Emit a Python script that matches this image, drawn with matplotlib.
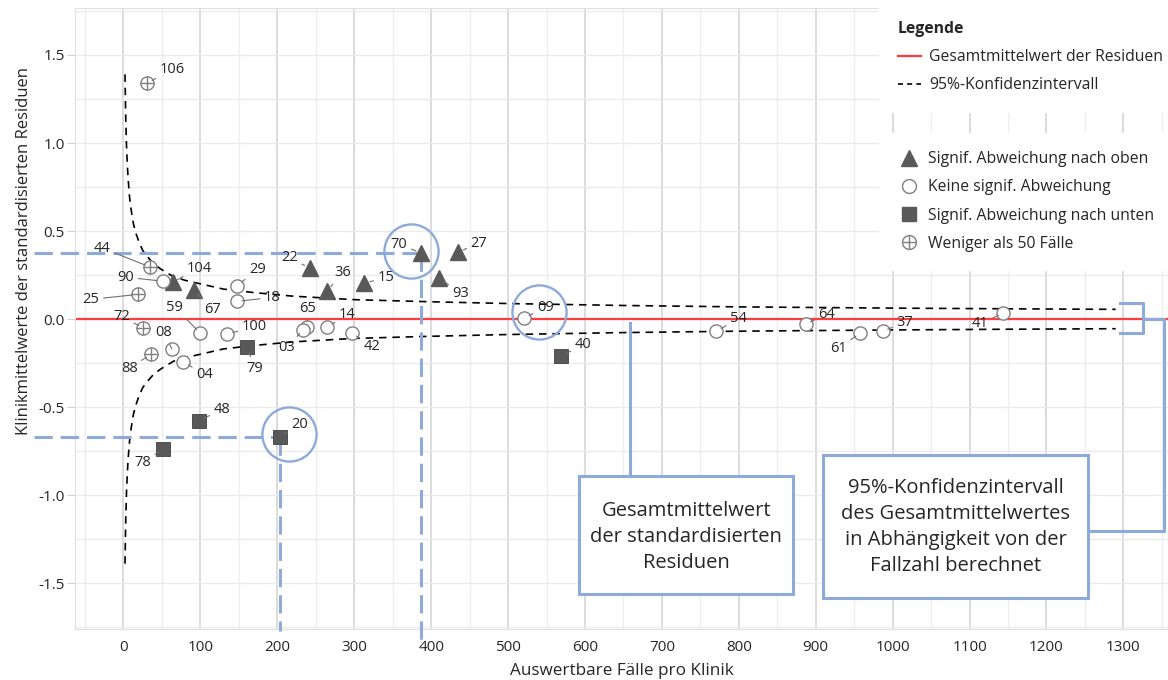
import matplotlib
matplotlib.use("Agg")
import matplotlib.pyplot as plt
from matplotlib.lines import Line2D
from matplotlib.patches import Rectangle
from matplotlib.transforms import offset_copy
from matplotlib.ticker import MultipleLocator

plt.rcParams['font.family'] = ['Open Sans', 'DejaVu Sans']

# Kliniken mit signifikanter Abweichung nach oben
ids_up = ['104', '67', '22', '36', '15', '70', '93', '27']
n_up = [64, 92, 242, 265, 313, 387, 410, 435]
res_up = [0.21, 0.165, 0.29, 0.16, 0.205, 0.375, 0.233, 0.38]

# Kliniken ohne signifikante Abweichung
ids_ns = ['90', '29', '18', '59', '100', '08', '04', '65', '03', '14', '42',
          '09', '54', '64', '61', '37', '41']
n_ns = [51, 148, 147, 100, 135, 63, 78, 239, 234, 265, 297,
        521, 771, 887, 958, 987, 1144]
res_ns = [0.215, 0.19, 0.10, -0.08, -0.085, -0.17, -0.245, -0.045, -0.06, -0.045, -0.08,
          0.005, -0.07, -0.03, -0.08, -0.07, 0.035]

# Kliniken mit signifikanter Abweichung nach unten
ids_down = ['79', '40', '48', '20', '78']
n_down = [161, 569, 98, 203, 51]
res_down = [-0.16, -0.21, -0.58, -0.67, -0.74]

# Kliniken mit weniger als 50 Faellen
ids_small = ['106', '44', '25', '72', '88']
n_small = [31, 35, 19, 26, 36]
res_small = [1.34, 0.295, 0.14, -0.05, -0.2]

# 95%-Konfidenzintervall um den Gesamtmittelwert
ci_n = [2, 3, 4, 5, 6, 8, 10, 13, 16, 20, 25, 30, 40, 50, 65, 80, 100, 130,
        170, 220, 300, 400, 500, 650, 800, 1000, 1150, 1290]
ci_upper = [1.39, 1.13, 0.98, 0.88, 0.80, 0.69, 0.62, 0.54, 0.49, 0.44, 0.39,
            0.36, 0.31, 0.28, 0.24, 0.22, 0.20, 0.17, 0.15, 0.13, 0.11, 0.098,
            0.088, 0.077, 0.069, 0.062, 0.058, 0.055]
ci_lower = [-1.39, -1.13, -0.98, -0.88, -0.80, -0.69, -0.62, -0.54, -0.49, -0.44,
            -0.39, -0.36, -0.31, -0.28, -0.24, -0.22, -0.20, -0.17, -0.15, -0.13,
            -0.11, -0.098, -0.088, -0.077, -0.069, -0.062, -0.058, -0.055]
mean_res = 0.0

# Beschriftungsversatz (Pixel: rechts, unten)
label_offsets = {
    '106': (25, -14), '44': (-48, -19), '90': (-37, -4), '104': (27, -14),
    '67': (18, 20), '29': (20, -16), '18': (36, -4), '25': (-47, 5),
    '72': (-22, -11), '59': (-26, -26), '100': (27, -7), '08': (-8, -16),
    '88': (-22, 14), '04': (21, 12), '79': (7, 21), '22': (-20, -10),
    '36': (15, -18), '15': (22, -5), '65': (0, -18), '03': (-17, 18),
    '14': (20, -12), '42': (20, 13), '70': (-22, -9), '27': (21, -9),
    '93': (22, 15), '09': (21, -11), '54': (22, -13), '64': (21, -10),
    '61': (-22, 15), '37': (22, -9), '41': (-23, 11), '40': (22, -11),
    '48': (23, -12), '20': (20, -12), '78': (-20, 13),
}

gray = '#595959'
light = '#808080'
blue = '#8eaadb'
txt = '#262626'

fig = plt.figure(figsize=(11.68, 6.8), dpi=100)
ax = fig.add_axes([75 / 1168, 51 / 680, 1093 / 1168, 621 / 680])
ax.set_xlim(-63, 1358)
ax.set_ylim(-1.761, 1.767)

ax.xaxis.set_major_locator(MultipleLocator(100))
ax.xaxis.set_minor_locator(MultipleLocator(50))
ax.yaxis.set_major_locator(MultipleLocator(0.5))
ax.yaxis.set_minor_locator(MultipleLocator(0.25))
ax.set_xticks(range(0, 1301, 100))
ax.grid(axis='x', which='major', color='#d9d9d9', lw=1.3, zorder=0)
ax.grid(axis='x', which='minor', color='#eeeeee', lw=1.0, zorder=0)
ax.grid(axis='y', which='both', color='#ebebeb', lw=1.0, zorder=0)
ax.set_axisbelow(True)
for s in ax.spines.values():
    s.set_color('#e0e0e0')
ax.tick_params(axis='x', which='both', length=0, pad=8, labelsize=11, labelcolor=txt)
ax.tick_params(axis='y', which='major', length=6, color='#d0d0d0', pad=1.5,
               labelsize=11, labelcolor=txt)
ax.tick_params(axis='y', which='minor', length=0)
ax.yaxis.set_major_formatter(lambda v, p: f'{v:.1f}')

ax.set_xlabel('Auswertbare Fälle pro Klinik', fontsize=12.3, color=txt)
ax.set_ylabel('Klinikmittelwerte der standardisierten Residuen', fontsize=12, color=txt)
ax.xaxis.set_label_coords(0.5, -0.055)
ax.yaxis.set_label_coords(-0.039, 0.609)

# Gesamtmittelwert und Konfidenzgrenzen
ax.axhline(mean_res, color='#ff3b3b', lw=1.6, zorder=2)
ax.plot(ci_n, ci_upper, color='black', lw=1.2, ls=(0, (4.5, 3.5)), zorder=2)
ax.plot(ci_n, ci_lower, color='black', lw=1.2, ls=(0, (4.5, 3.5)), zorder=2)

# Hilfslinien zu den Beispielkliniken
guide = dict(color=blue, lw=2.2, ls=(0, (6, 2.6)), clip_on=False, zorder=3)
i70 = ids_up.index('70')
ax.plot([-116, n_up[i70]], [res_up[i70], res_up[i70]], **guide)
ax.plot([n_up[i70], n_up[i70]], [res_up[i70], -1.87], **guide)
i20 = ids_down.index('20')
ax.plot([-116, n_down[i20]], [res_down[i20], res_down[i20]], **guide)
ax.plot([n_down[i20], n_down[i20]], [res_down[i20], -1.77], **guide)

# Punkte
ax.plot(n_up, res_up, ls='none', marker='^', ms=12, mfc=gray, mec=gray, zorder=5)
ax.plot(n_ns, res_ns, ls='none', marker='o', ms=9.5, mfc='white', mec=light,
        mew=1.0, zorder=5)
ax.plot(n_down, res_down, ls='none', marker='s', ms=9.5, mfc=gray, mec='#404040',
        mew=0.6, zorder=5)
ax.plot(n_small, res_small, ls='none', marker='o', ms=9.5, mfc='white', mec=light,
        mew=1.0, zorder=5)
ax.plot(n_small, res_small, ls='none', marker='+', ms=9.5, mec=light, mew=1.0, zorder=6)

# Beschriftungen mit Hinweislinien
for ids, xs, ys in [(ids_up, n_up, res_up), (ids_ns, n_ns, res_ns),
                    (ids_down, n_down, res_down), (ids_small, n_small, res_small)]:
    for k, x, y in zip(ids, xs, ys):
        dx, dy = label_offsets[k]
        ax.annotate(k, (x, y), xytext=(dx * 0.72, -dy * 0.72), textcoords='offset points',
                    ha='center', va='center', fontsize=10.5, color=txt, zorder=7,
                    arrowprops=dict(arrowstyle='-', color='#707070', lw=0.8,
                                    shrinkA=1, shrinkB=4))

# Markierungskreise
ring = dict(ls='none', marker='o', ms=39, mfc='none', mec=blue, mew=1.7, zorder=8)
i09 = ids_ns.index('09')
ax.plot(n_up[i70], res_up[i70], transform=offset_copy(ax.transData, fig, -7, 1.4, units='points'), **ring)
ax.plot(n_ns[i09], res_ns[i09], transform=offset_copy(ax.transData, fig, 10.8, 4.3, units='points'), **ring)
ax.plot(n_down[i20], res_down[i20], transform=offset_copy(ax.transData, fig, 7, 2.2, units='points'), **ring)

# Erklaerungskaesten
box_kw = dict(facecolor='white', edgecolor=blue, lw=2.2, zorder=9, clip_on=False)
ax.add_patch(Rectangle((592, -1.5625), 279, 0.67, **box_kw))
ax.text(731.5, -1.239, 'Gesamtmittelwert\nder standardisierten\nResiduen', ha='center',
        va='center', fontsize=14.5, color=txt, linespacing=1.4, zorder=10)
ax.plot([658, 658], [-0.892, -0.025], color=blue, lw=2.2, zorder=9)

ax.add_patch(Rectangle((910, -1.585), 344.5, 0.812, **box_kw))
ax.text(1082, -1.182, '95%-Konfidenzintervall\ndes Gesamtmittelwertes\nin Abhängigkeit von der\nFallzahl berechnet',
        ha='center', va='center', fontsize=14.5, color=txt, linespacing=1.4, zorder=10)
ax.plot([1295, 1325, 1325, 1295], [0.09, 0.09, -0.08, -0.08], color=blue, lw=2.2,
        clip_on=False, zorder=9)
ax.plot([1254.5, 1353, 1353, 1325], [-1.205, -1.205, 0.0, 0.0], color=blue, lw=2.2,
        clip_on=False, zorder=9)

# Legende
h_lines = [Line2D([], [], color='#ff3b3b', lw=1.6),
           Line2D([], [], color='black', lw=1.2, ls=(0, (3, 2.5)))]
leg1 = fig.legend(h_lines, ['Gesamtmittelwert der Residuen', '95%-Konfidenzintervall'],
                  loc='upper left', bbox_to_anchor=(879 / 1168, 1 - 2 / 680),
                  title='Legende', alignment='left', frameon=True, fancybox=False,
                  facecolor='white', edgecolor='white', framealpha=1,
                  fontsize=11.3, title_fontsize=11.3, handlelength=1.5,
                  handletextpad=0.5, borderpad=1.2, labelspacing=0.78,
                  borderaxespad=0)
leg1.get_title().set_fontweight('bold')
leg1.get_title().set_color(txt)
for t in leg1.get_texts():
    t.set_color(txt)

h_marks = [Line2D([], [], ls='none', marker='^', ms=11, mfc=gray, mec=gray),
           Line2D([], [], ls='none', marker='o', ms=10, mfc='white', mec=light),
           Line2D([], [], ls='none', marker='s', ms=10, mfc=gray, mec=gray),
           (Line2D([], [], ls='none', marker='o', ms=10, mfc='white', mec=light),
            Line2D([], [], ls='none', marker='+', ms=10, mec=light))]
leg2 = fig.legend(h_marks, ['Signif. Abweichung nach oben', 'Keine signif. Abweichung',
                            'Signif. Abweichung nach unten', 'Weniger als 50 Fälle'],
                  loc='upper left', bbox_to_anchor=(879 / 1168, 1 - 133 / 680),
                  frameon=True, fancybox=False, facecolor='white', edgecolor='white',
                  framealpha=1, fontsize=11.3, handlelength=1.5, handletextpad=0.5,
                  borderpad=1.15, labelspacing=0.78, borderaxespad=0)
for t in leg2.get_texts():
    t.set_color(txt)

fig.savefig('out.png', dpi=100)
